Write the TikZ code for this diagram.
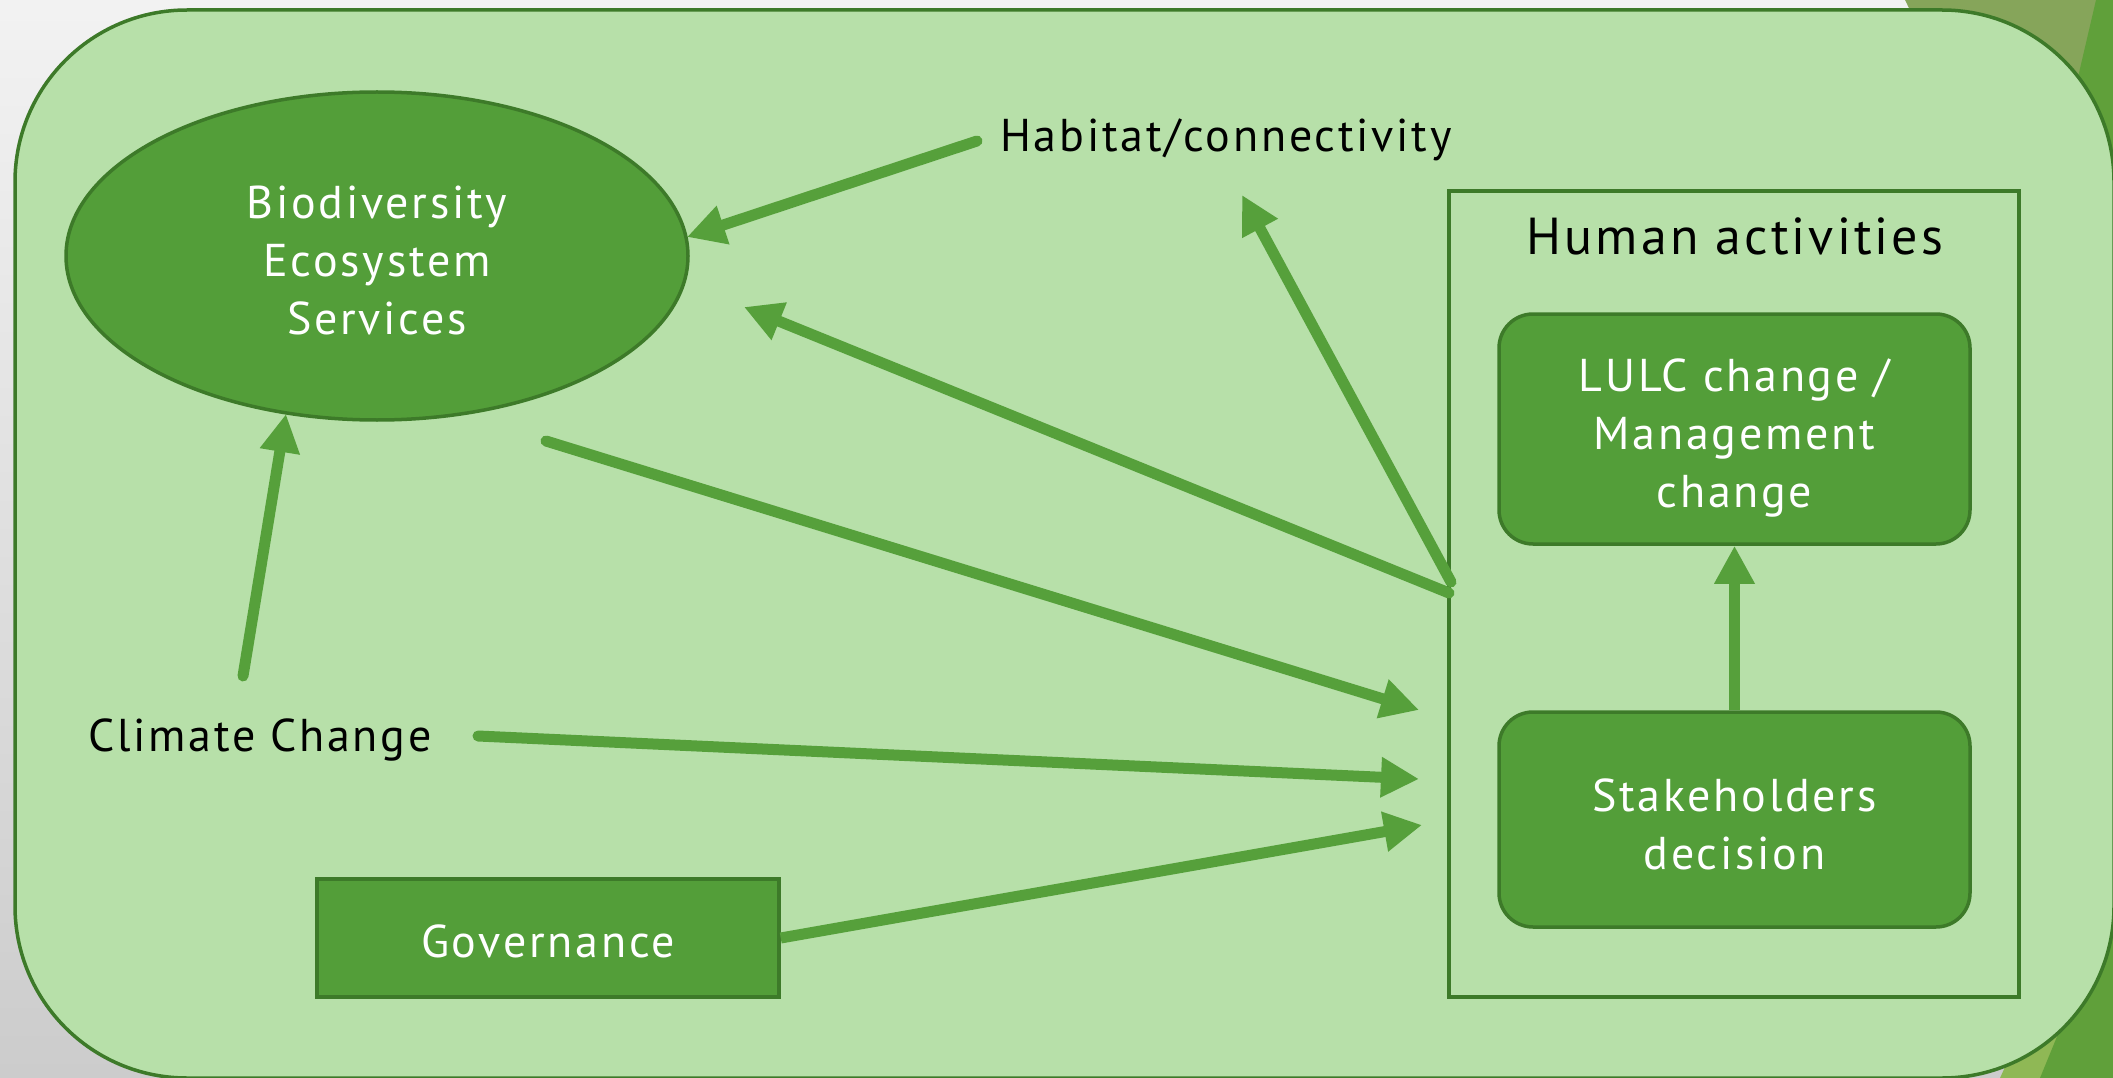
\documentclass[tikz,border=0pt]{standalone}
\usepackage{fontspec}
\setmainfont{PT Sans}[LetterSpace=6]
\usetikzlibrary{arrows.meta,shapes.geometric}
\definecolor{lightg}{RGB}{183,224,169}
\definecolor{midg}{RGB}{83,158,57}
\definecolor{darkg}{RGB}{61,122,41}
\definecolor{arrg}{RGB}{86,160,59}
\definecolor{olive}{RGB}{134,165,90}
\definecolor{deco}{RGB}{96,160,58}
\definecolor{decolight}{RGB}{143,184,85}
\begin{document}
\begin{tikzpicture}[x=1pt,y=-1pt,
  txt/.style={font=\fontsize{46}{58}\selectfont, align=center, inner sep=0pt},
  whitetxt/.style={txt, text=white},
  darkbox/.style={draw=darkg, line width=3.5pt, fill=midg, inner sep=0pt},
  conn/.style={draw=arrg, line width=11pt, line cap=round, -{Triangle[length=38pt,width=38pt]}},
]
\useasboundingbox (0,0) rectangle (2113,1078);
% page background
\shade[top color=black!5, bottom color=black!20] (0,0) rectangle (2113,1078);
\fill[olive] (1905,0) -- (2113,0) -- (2113,420) -- cycle;
\fill[deco] (2096,0) -- (2113,0) -- (2113,160) -- (2075,90) -- cycle;
\fill[decolight] (2000,1078) -- (2113,830) -- (2113,1078) -- cycle;
\fill[deco] (2040,1078) -- (2113,900) -- (2113,1078) -- cycle;
% outer panel
\draw[darkg, line width=3.5pt, fill=lightg, rounded corners=172pt] (15,10) rectangle (2114,1078);

% nodes
\node[darkbox, ellipse, minimum width=622pt, minimum height=328pt] (bio) at (377,256) {};
\node[whitetxt] (biotxt) at (377,260) {Biodiversity\\Ecosystem\\Services};
\node[txt, anchor=west] (hab) at (1000,140) {Habitat/connectivity};
\node[draw=darkg, line width=3.5pt, minimum width=570pt, minimum height=806pt, inner sep=0pt] (human) at (1734,594) {};
\node[txt, font=\fontsize{52}{60}\selectfont] (humtxt) at (1735,236) {Human activities};
\node[darkbox, rounded corners=34pt, minimum width=471pt, minimum height=230pt] (lulc) at (1734.5,429) {};
\node[whitetxt] at ([yshift=-9pt]lulc.center) {LULC change /\\Management\\change};
\node[darkbox, rounded corners=34pt, minimum width=471pt, minimum height=215pt] (stake) at (1734.5,819.5) {};
\node[whitetxt] at ([yshift=-5pt]stake.center) {Stakeholders\\decision};
\node[darkbox, minimum width=462pt, minimum height=118pt] (gov) at (548,938) {};
\node[whitetxt] at ([yshift=-3pt]gov.center) {Governance};
\node[txt, anchor=west] (clim) at (88,740) {Climate Change};

% connector end points
\coordinate (habS) at (977,141);
\coordinate (bioE) at (687,237);
\coordinate (humL1) at (1449,593);
\coordinate (bioNE) at (744,307);
\coordinate (humL2) at (1451,582);
\coordinate (habB) at (1242,195);
\coordinate (bioSE) at (546,441);
\coordinate (humA) at (1419,710);
\coordinate (climE) at (478,736);
\coordinate (humB) at (1419,779);
\coordinate (humC) at (1422,825);
\coordinate (climN) at (243,676);
\coordinate (bioS) at (286,414);

% connectors
\draw[conn] (habS) -- (bioE);
\draw[conn] (humL1) -- (bioNE);
\draw[conn] (humL2) -- (habB);
\draw[conn] (bioSE) -- (humA);
\draw[conn] (climE) -- (humB);
\draw[conn, line cap=butt] (gov.east) -- (humC);
\draw[conn] (climN) -- (bioS);
\draw[conn, line cap=butt] (stake.north) -- (lulc.south);
\end{tikzpicture}
\end{document}
